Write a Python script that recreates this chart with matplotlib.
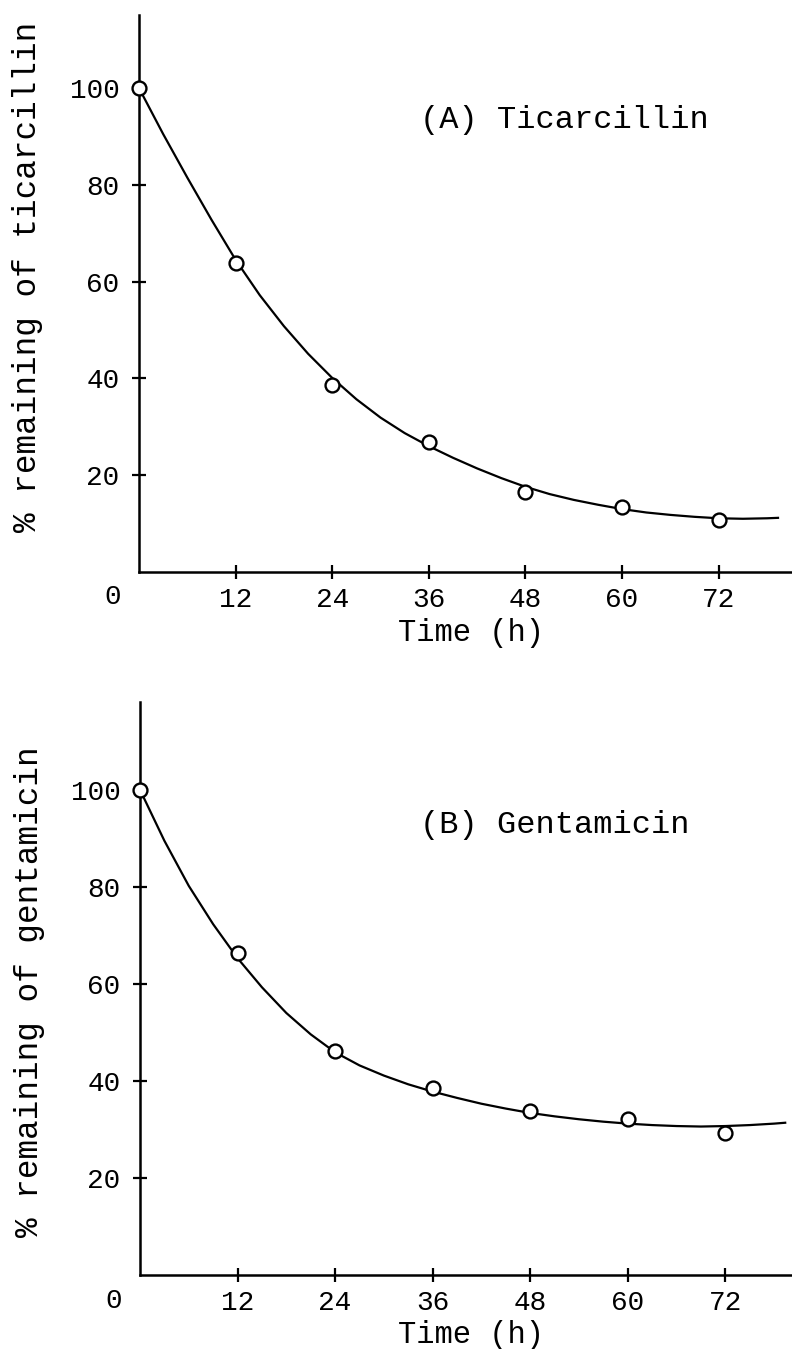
import matplotlib
matplotlib.use("Agg")
import matplotlib.pyplot as plt

# ---- data ----
time_h = [0, 12, 24, 36, 48, 60, 72]
ticarcillin = [100, 63.8, 38.6, 26.9, 16.5, 13.4, 10.7]
gentamicin = [100, 66.4, 46.2, 38.6, 33.8, 32.2, 29.3]

# fitted trend curves
curve_t = [0, 3, 6, 9, 12, 15, 18, 21, 24, 27, 30, 33, 36, 39, 42, 45, 48,
           51, 54, 57, 60, 63, 66, 69, 72, 75, 78, 79.5]
curve_ticarcillin = [100, 90.5, 81.5, 72.8, 64.5, 57.2, 50.8, 45.1, 40.1,
                     35.7, 31.9, 28.7, 26.0, 23.6, 21.4, 19.4, 17.6, 16.1,
                     14.9, 13.9, 13.0, 12.3, 11.8, 11.4, 11.1, 11.0, 11.1,
                     11.2]
curve_gentamicin = [100, 89.5, 80.2, 72.3, 65.3, 59.3, 54.0, 49.6, 45.9,
                    43.2, 41.1, 39.3, 37.8, 36.5, 35.3, 34.3, 33.4, 32.7,
                    32.1, 31.6, 31.2, 30.9, 30.7, 30.6, 30.7, 30.9, 31.2,
                    31.4]

x_ticks = [12, 24, 36, 48, 60, 72]
x_ticklabels = ["12", "24", "36", "48", "60", "72"]
y_ticks = [20, 40, 60, 80, 100]
y_ticklabels = ["20", "40", "60", "80", "100"]

panels = [
    dict(y=ticarcillin, curve=curve_ticarcillin, title="(A) Ticarcillin",
         ylabel="% remaining of ticarcillin",
         rect=[139/792, (1349-572)/1349, 653/792, 557/1349],
         xlim=(0, 81.1), ylim=(0, 115.1), title_xy=(34.9, 93.4),
         ylabel_y=0.53, xlabel_y=-0.11),
    dict(y=gentamicin, curve=curve_gentamicin, title="(B) Gentamicin",
         ylabel="% remaining of gentamicin",
         rect=[140/792, (1349-1275)/1349, 652/792, 573/1349],
         xlim=(0, 80.2), ylim=(0, 118.1), title_xy=(34.5, 92.8),
         ylabel_y=0.494, xlabel_y=-0.105),
]

FONT = "Liberation Mono"
fig = plt.figure(figsize=(7.92, 13.49), dpi=100)

for p in panels:
    ax = fig.add_axes(p["rect"])
    ax.plot(curve_t, p["curve"], color="black", lw=1.6, clip_on=False,
            solid_capstyle="butt", solid_joinstyle="round")
    ax.plot(time_h, p["y"], linestyle="none", marker="o", ms=10,
            mfc="white", mec="black", mew=1.7, clip_on=False, zorder=5)
    ax.set_xlim(*p["xlim"])
    ax.set_ylim(*p["ylim"])
    for s in ["top", "right"]:
        ax.spines[s].set_visible(False)
    for s in ["left", "bottom"]:
        ax.spines[s].set_linewidth(1.8)
        ax.spines[s].set_color("black")
    ax.set_xticks(x_ticks)
    ax.set_xticklabels(x_ticklabels, fontfamily=FONT, fontsize=20)
    ax.set_yticks(y_ticks)
    ax.set_yticklabels(y_ticklabels, fontfamily=FONT, fontsize=20)
    ax.tick_params(axis="both", direction="inout", length=10, width=1.6,
                   colors="black")
    ax.tick_params(axis="x", pad=6)
    ax.tick_params(axis="y", pad=9)
    ax.text(-0.041, -0.045, "0", transform=ax.transAxes, ha="center",
            va="center", fontfamily=FONT, fontsize=20)
    ax.set_xlabel("Time (h)", fontfamily=FONT, fontsize=22)
    ax.xaxis.set_label_coords(0.508, p["xlabel_y"])
    ax.xaxis.label.set_va("center")
    ax.set_ylabel(p["ylabel"], fontfamily=FONT, fontsize=23.5)
    ax.yaxis.set_label_coords(-0.17, p["ylabel_y"])
    ax.yaxis.label.set_va("center")
    ax.text(p["title_xy"][0], p["title_xy"][1], p["title"], ha="left",
            va="center", fontfamily=FONT, fontsize=23)
    ax.patch.set_visible(False)

fig.savefig("out.png", dpi=100, facecolor="white")
